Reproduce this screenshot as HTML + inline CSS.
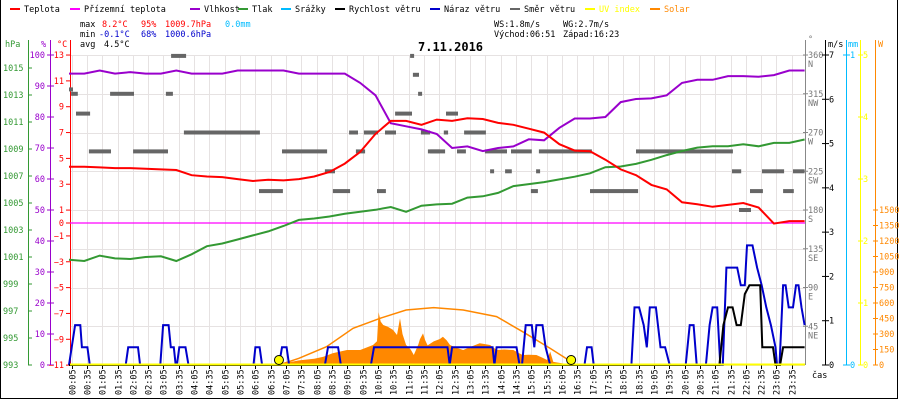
<!DOCTYPE html>
<html><head><meta charset="utf-8">
<style>
html,body{margin:0;padding:0;background:#fff;}
svg{display:block;font-family:"DejaVu Sans Mono","Liberation Mono",monospace;font-size:8.5px;}
</style></head>
<body>
<svg id="chart" width="900" height="400" viewBox="0 0 900 400" xmlns="http://www.w3.org/2000/svg">
<rect x="0" y="0" width="900" height="400" fill="#fff"/>
<line x1="0.5" y1="0" x2="0.5" y2="399" stroke="#000"/>
<line x1="897.5" y1="0" x2="897.5" y2="399" stroke="#000"/>
<line x1="0" y1="398.5" x2="898" y2="398.5" stroke="#000"/>
<g id="grid"></g>
<g id="legend"></g>
<g>
<text x="80" y="27" fill="#000">max</text><text x="102" y="27" fill="#f00">8.2°C</text><text x="141" y="27" fill="#f00">95%</text><text x="165" y="27" fill="#f00">1009.7hPa</text><text x="225" y="27" fill="#0bf">0.0mm</text>
<text x="80" y="37" fill="#000">min</text><text x="99" y="37" fill="#00c">-0.1°C</text><text x="141" y="37" fill="#00c">68%</text><text x="165" y="37" fill="#00c">1000.6hPa</text>
<text x="80" y="47" fill="#000">avg</text><text x="104" y="47" fill="#000">4.5°C</text>
<text x="494" y="27" fill="#000">WS:1.8m/s</text><text x="563" y="27" fill="#000">WG:2.7m/s</text>
<text x="494" y="37" fill="#000">Východ:06:51</text><text x="563" y="37" fill="#000">Západ:16:23</text>
</g>
<text x="418" y="51" font-size="12px" font-weight="bold" fill="#000">7.11.2016</text>
<g id="axes"></g>
<g id="marks"></g>
</svg>
<script>
// ---- data ----
const tempTimes = [0,0.5,1,1.5,2,2.5,3,3.5,4,4.5,5,5.5,6,6.5,7,7.5,8,8.5,9,9.5,10,10.5,11,11.5,12,12.5,13,13.5,14,14.5,15,15.5,16,16.5,17,17.5,18,18.5,19,19.5,20,20.5,21,21.5,22,22.5,23,23.5,24];
const tempVals = [4.35,4.35,4.3,4.25,4.25,4.2,4.15,4.1,3.7,3.6,3.55,3.4,3.25,3.35,3.3,3.4,3.6,3.95,4.6,5.5,6.9,7.9,7.9,7.6,8.0,7.9,8.1,8.05,7.75,7.6,7.3,7.0,6.1,5.6,5.55,4.9,4.15,3.7,2.95,2.6,1.6,1.45,1.25,1.4,1.55,1.2,-0.05,0.15,0.15];
const humVals = [94,94,95,94,94.5,94,94,95,94,94,94,95,95,95,95,94,94,94,94,91,87,78,77,76,74.5,70,70.5,69,70,70.5,72.8,72.5,76.5,79.5,79.5,80,84.8,85.8,86,87,91,92,92,93.2,93.2,93,93.5,95,95];
const presVals = [1000.8,1000.7,1001.1,1000.9,1000.85,1001.0,1001.05,1000.7,1001.2,1001.8,1002.0,1002.3,1002.6,1002.9,1003.3,1003.75,1003.85,1004.0,1004.2,1004.35,1004.5,1004.7,1004.35,1004.8,1004.9,1004.95,1005.4,1005.5,1005.75,1006.25,1006.4,1006.55,1006.75,1006.95,1007.2,1007.65,1007.7,1007.9,1008.2,1008.55,1008.85,1009.1,1009.2,1009.2,1009.35,1009.2,1009.45,1009.45,1009.7];
const gustTimes = [0,0.2,0.37,0.42,0.6,0.68, 1.85,1.93,2.25,2.32, 2.98,3.07,3.25,3.32,3.42,3.48, 3.52,3.6,3.8,3.9, 6.02,6.08,6.22,6.3, 6.85,6.95,7.1,7.18, 8.35,8.45,8.78,8.87, 9.85,9.95,12.35,12.42,12.5,13.82,13.88,13.95,14.6,14.7, 14.78,14.9,15.1,15.18,15.25,15.45,15.55,15.7, 16.82,16.9,17.05,17.12, 18.35,18.45,18.6,18.75,18.85,18.95,19.15,19.3,19.45,19.6, 20.12,20.25,20.38,20.48, 20.78,20.9,21.0,21.15,21.25, 21.33,21.45,21.8,21.92,22.05,22.12,22.3,22.45,22.6,22.75,22.9,23.05,23.1, 23.18,23.3,23.38,23.48,23.62,23.72,23.8,23.9,24];
const gustVals  = [0,0.9,0.9,0.4,0.4,0, 0,0.4,0.4,0, 0,0.9,0.9,0.4,0.4,0, 0,0.4,0.4,0, 0,0.4,0.4,0, 0,0.4,0.4,0, 0,0.4,0.4,0, 0,0.4,0.4,0,0.4,0.4,0,0.4,0.4,0, 0,0.9,0.9,0.4,0.9,0.9,0.4,0, 0,0.4,0.4,0, 0,1.3,1.3,0.9,0.4,1.3,1.3,0.4,0.4,0, 0,0.9,0.9,0, 0,0.9,1.3,1.3,0, 0,2.2,2.2,1.8,1.8,2.7,2.7,2.2,1.8,1.3,0.9,0.4,0, 0,1.8,1.8,1.3,1.3,1.8,1.8,1.3,0.9];
const windTimes = [0,21.22,21.35,21.5,21.65,21.78,21.92,22.05,22.2,22.55,22.62,22.97,23.05,23.2,23.3,24];
const windVals  = [0,0,0.9,1.3,1.3,0.9,0.9,1.6,1.8,1.8,0.4,0.4,0,0,0.4,0.4];
const solarTimes = [6.85,7.0,7.5,8.0,8.3,8.6,9.07,9.5,9.92,10.05,10.1,10.17,10.25,10.4,10.57,10.7,10.8,10.88,11.0,11.15,11.25,11.4,11.45,11.55,11.62,11.7,11.9,12.1,12.2,12.32,12.43,12.6,12.86,13.1,13.4,13.6,13.74,13.95,14.2,14.5,14.65,14.8,15.0,15.25,15.45,15.6,15.7,15.8,16.0,16.35,16.5];
const solarVals  = [0,15,45,60,80,113,145,145,194,230,510,420,387,370,340,290,452,300,194,150,97,200,250,306,240,190,228,252,274,240,194,170,145,175,210,200,194,145,150,145,120,97,100,97,70,48,130,30,20,5,0];
const solarMaxTimes = [6.85,7.5,8.4,9.27,10.15,11,11.9,12.86,13.95,14.8,15.7,16.35,16.55];
const solarMaxVals  = [0,65,177,355,452,532,555,532,468,322,161,39,0];
const dirStart = [0,0.07,0.23,0.65,1.34,2.09,3.16,3.33,3.75,6.2,6.95,8.35,8.61,9.14,9.36,9.62,10.05,10.31,10.64,11.13,11.22,11.39,11.48,11.71,11.78,12.23,12.3,12.66,12.89,13.57,13.74,14.23,14.42,15.07,15.24,15.33,17.0,18.5,21.63,21.86,22.22,22.61,23.3,23.62];
const dirEnd   = [0.13,0.29,0.69,1.37,2.12,3.23,3.39,3.82,6.23,6.98,8.42,8.68,9.17,9.43,9.66,10.08,10.34,10.67,11.19,11.26,11.42,11.52,11.78,12.1,12.27,12.37,12.69,12.95,13.6,14.29,13.87,14.45,15.1,15.3,15.37,17.06,18.57,21.66,21.93,22.25,22.64,23.33,23.65,24];
const dirVals  = [320,315,292,248,315,248,315,359,270,202,248,225,202,270,248,270,202,270,292,359,337,315,270,248,248,270,292,248,270,248,225,225,248,202,225,248,202,248,225,180,202,225,202,225];
const sunTimes = [6.85,16.383];
const tempTicks = [13,11,9,7,5,3,1,0,-1,-3,-5,-7,-9,-11];
const humTicks = [100,90,80,70,60,50,40,30,20,10,0];
const presTicks = [1015,1013,1011,1009,1007,1005,1003,1001,999,997,995,993];
const dirTicks = [360,315,270,225,180,135,90,45];
const dirNames = ['N','NW','W','SW','S','SE','E','NE'];
const windTicks = [0,1,2,3,4,5,6,7];
const uvTicks = [0,1,2,3,4,5];
const solarTicks = [0,150,300,450,600,750,900,1050,1200,1350,1500];

// ---- scales ----
const xs = t => 69 + t*30.65;
const yT = v => 223 - v*12.92;
const yH = v => 365 - v*3.1;
const yP = v => 365 - (v-993)*13.5;
const yD = d => 365 - d*310/360;
const yW = v => 365 - v*310/7;
const yS = w => 365 - w*155/1500;
const NS = 'http://www.w3.org/2000/svg';
function mk(tag, attrs, parent){ const e=document.createElementNS(NS,tag); for(const k in attrs) e.setAttribute(k,attrs[k]); parent.appendChild(e); return e; }
function txt(x,y,s,fill,parent,anchor){ const e=mk('text',{x:x,y:y,fill:fill,'text-anchor':anchor||'start'},parent); e.textContent=s; return e; }
const grid=document.getElementById('grid'), axes=document.getElementById('axes'), marks=document.getElementById('marks'), legend=document.getElementById('legend');

// grid
for(let k=0;k<48;k++){
  const x=Math.round(xs(k*0.5+0.083))+0.5;
  const g=mk('line',{x1:x,y1:55,x2:x,y2:365,stroke:'#e6e2e2'},grid);
  
  
  const tk=mk('line',{x1:x,y1:365,x2:x,y2:369,stroke:'#000'},axes);
  
  
  const hh=String(Math.floor((k*30+5)/60)).padStart(2,'0'), mm=String((k*30+5)%60).padStart(2,'0');
  const t=mk('text',{x:0,y:0,fill:'#000',transform:`translate(${x+3},395) rotate(-90)`},axes);
  t.textContent=hh+':'+mm;
  
  
}
for(const d of [0,45,90,135,180,225,270,315,360]){
  const y=Math.round(yD(d))+0.5;
  const g=mk('line',{x1:70,y1:y,x2:805,y2:y,stroke:'#e6e2e2'},grid);
  
  
}
txt(812,378,'čas','#000',axes);

// legend
const legItems=[['Teplota','#f00',10],['Přízemní teplota','#f0f',70],['Vlhkost','#90c',190],['Tlak','#393',238],['Srážky','#0bf',281],['Rychlost větru','#000',335],['Náraz větru','#00c',430],['Směr větru','#666',510],['UV index','#ff0',585],['Solar','#f80',650]];
for(const it of legItems){
  const g=mk('g',{},legend);
  
  
  mk('rect',{x:it[2],y:8,width:10,height:2,fill:it[1]},g);
  txt(it[2]+14,12,it[0],it[0]==='UV index'||it[0]==='Solar'?it[1]:'#000',g);
}

// left axes
function vline(x,c,name){ const l=mk('line',{x1:x,y1:40,x2:x,y2:365,stroke:c},axes);   }
vline(28.5,'#393','pressure-axis'); vline(50.5,'#90c','humidity-axis'); vline(70.5,'#f00','temperature-axis');
txt(5,47,'hPa','#393',axes); txt(41,47,'%','#90c',axes); txt(57,47,'°C','#f00',axes);
for(const v of presTicks){ const y=yP(v); mk('line',{x1:28,y1:y,x2:32,y2:y,stroke:'#393'},axes); txt(3,y+3,String(v),'#393',axes); }
for(const v of humTicks){ const y=yH(v); mk('line',{x1:47,y1:y,x2:54,y2:y,stroke:'#90c'},axes); txt(45,y+3,String(v),'#90c',axes,'end'); }
for(const v of tempTicks){ const y=yT(v); mk('line',{x1:66,y1:y,x2:71,y2:y,stroke:'#f00'},axes); txt(64,y+3,String(v).replace('-','−'),'#f00',axes,'end'); }

// right axes
vline(805.5,'#888','direction-axis'); vline(825.5,'#000','wind-axis'); vline(846.5,'#0bf','rain-axis'); vline(860.5,'#ff0','uv-axis'); vline(875.5,'#f80','solar-axis');
txt(808,42,'°','#777',axes); txt(828,47,'m/s','#000',axes); txt(848,47,'mm','#0bf',axes); txt(878,47,'W','#f80',axes);
dirTicks.forEach((d,i)=>{ const y=yD(d); mk('line',{x1:803,y1:y,x2:808,y2:y,stroke:'#888'},axes); txt(808,y+3,String(d),'#777',axes); txt(808,y+12,dirNames[i],'#777',axes); });
for(const v of windTicks){ const y=yW(v); mk('line',{x1:822,y1:y,x2:829,y2:y,stroke:'#000'},axes); txt(829,y+3,String(v),'#000',axes); }
for(const v of [0,1]){ const y=365-v*310; mk('line',{x1:843,y1:y,x2:850,y2:y,stroke:'#0bf'},axes); txt(850,y+3,String(v),'#0bf',axes); }
for(const v of uvTicks){ const y=365-v*62; mk('line',{x1:858,y1:y,x2:863,y2:y,stroke:'#ff0'},axes); txt(863,y+3,String(v),'#ff0',axes); }
for(const v of solarTicks){ const y=yS(v); mk('line',{x1:873,y1:y,x2:878,y2:y,stroke:'#f80'},axes); txt(879,y+3,String(v),'#f80',axes); }

// series
function pathOf(ts,vs,fy){ return ts.map((t,i)=>(i?'L':'M')+xs(t).toFixed(1)+' '+fy(vs[i]).toFixed(1)).join(' '); }
const solarArea=mk('path',{d:pathOf(solarTimes,solarVals,yS)+` L${xs(solarTimes[solarTimes.length-1])} 365 L${xs(solarTimes[0])} 365 Z`,fill:'#f80',stroke:'none'},marks);


const solarMax=mk('path',{d:pathOf(solarMaxTimes,solarMaxVals,yS),fill:'none',stroke:'#f80','stroke-width':1.5},marks);


dirVals.forEach((d,i)=>{
  const r=mk('rect',{x:xs(dirStart[i]).toFixed(1),y:(yD(d)-2).toFixed(1),width:(xs(dirEnd[i])-xs(dirStart[i])).toFixed(1),height:4,fill:'#666'},marks);
  
  
});
const app=mk('line',{x1:70,y1:yT(0),x2:805,y2:yT(0),stroke:'#f0f','stroke-width':1.2},marks);


const pres=mk('path',{d:pathOf(tempTimes,presVals,yP),fill:'none',stroke:'#393','stroke-width':2},marks);


const hum=mk('path',{d:pathOf(tempTimes,humVals,yH),fill:'none',stroke:'#90c','stroke-width':2},marks);


const tmp=mk('path',{d:pathOf(tempTimes,tempVals,yT),fill:'none',stroke:'#f00','stroke-width':2},marks);


const gust=mk('path',{d:pathOf(gustTimes,gustVals,yW),fill:'none',stroke:'#00c','stroke-width':2},marks);


const wind=mk('path',{d:pathOf(windTimes,windVals,yW),fill:'none',stroke:'#000','stroke-width':2},marks);


const uv=mk('line',{x1:70,y1:364.5,x2:805,y2:364.5,stroke:'#ff0','stroke-width':2},marks);


sunTimes.forEach(t=>{
  const c=mk('circle',{cx:xs(t),cy:360,r:4.5,fill:'#ff0',stroke:'#000','stroke-width':1},marks);
  
  
});
</script>
</body></html>
